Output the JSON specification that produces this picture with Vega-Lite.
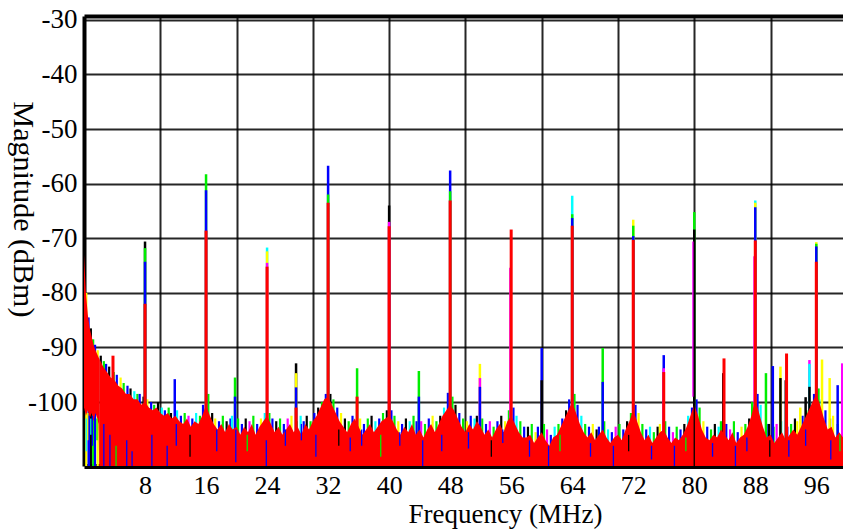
{
"$schema":"https://vega.github.io/schema/vega-lite/v6.json",
"width":759,"height":450,
"autosize":{"type":"none"},
"padding":{"left":84,"top":16,"right":0,"bottom":63},
"background":"#ffffff",
"config":{"view":{"stroke":null},"font":"Liberation Serif","axis":{"labelFont":"Liberation Serif","titleFont":"Liberation Serif","labelColor":"#000","titleColor":"#000","titleFontWeight":"normal","ticks":false,"gridColor":"#000","gridOpacity":0.85,"gridWidth":2,"domainColor":"#000","zindex":1,"labelFontSize":27}},
"datasets":{
"spk":[
{"f":8,"m":-70.6,"c":"k"},{"f":8,"m":-71.8,"c":"g"},{"f":8,"m":-74.3,"c":"b"},{"f":8,"m":-82,"c":"r"},
{"f":16,"m":-58.3,"c":"g"},{"f":16,"m":-61.2,"c":"b"},{"f":16,"m":-68.6,"c":"r"},
{"f":24,"m":-71.7,"c":"c"},{"f":24,"m":-72.4,"c":"y"},{"f":24,"m":-74.5,"c":"m"},{"f":24,"m":-75.2,"c":"r"},
{"f":32,"m":-56.7,"c":"b"},{"f":32,"m":-62,"c":"g"},{"f":32,"m":-63.5,"c":"r"},
{"f":40,"m":-64,"c":"k"},{"f":40,"m":-67,"c":"m"},{"f":40,"m":-67.8,"c":"r"},
{"f":48,"m":-57.6,"c":"b"},{"f":48,"m":-61.4,"c":"g"},{"f":48,"m":-63.1,"c":"r"},
{"f":55.9,"m":-75.4,"c":"m"},{"f":56,"m":-68.4,"c":"r"},
{"f":64,"m":-62.2,"c":"c"},{"f":64,"m":-65.6,"c":"g"},{"f":64,"m":-66.3,"c":"b"},{"f":64,"m":-67.7,"c":"r"},
{"f":72,"m":-66.6,"c":"y"},{"f":72,"m":-67.7,"c":"g"},{"f":72,"m":-69.6,"c":"b"},{"f":72,"m":-70.3,"c":"r"},
{"f":80,"m":-65.2,"c":"g"},{"f":80,"m":-68.4,"c":"k"},
{"f":88,"m":-63.1,"c":"c"},{"f":88,"m":-63.5,"c":"y"},{"f":88,"m":-64.3,"c":"b"},{"f":87.9,"m":-73.3,"c":"m"},{"f":88,"m":-70.4,"c":"r"},
{"f":96,"m":-70.7,"c":"y"},{"f":96,"m":-71,"c":"g"},{"f":96,"m":-71.5,"c":"b"},{"f":96,"m":-74.3,"c":"r"},
{"f":3.8,"m":-91.5,"c":"r"},
{"f":11.9,"m":-95.8,"c":"b"},
{"f":19.8,"m":-95.5,"c":"g"},{"f":19.8,"m":-99,"c":"b"},
{"f":27.8,"m":-92.9,"c":"k"},{"f":27.8,"m":-94.7,"c":"y"},{"f":27.8,"m":-97.3,"c":"b"},{"f":27.8,"m":-101,"c":"r"},
{"f":35.8,"m":-93.8,"c":"g"},{"f":35.8,"m":-99,"c":"r"},
{"f":43.9,"m":-94.3,"c":"g"},{"f":43.9,"m":-99,"c":"b"},
{"f":51.9,"m":-93,"c":"y"},{"f":51.9,"m":-95.6,"c":"m"},{"f":51.9,"m":-97.2,"c":"b"},
{"f":60,"m":-90.1,"c":"b"},{"f":60,"m":-96,"c":"k"},
{"f":68,"m":-90.1,"c":"g"},{"f":68,"m":-96.3,"c":"b"},
{"f":76,"m":-91.4,"c":"b"},{"f":76,"m":-93.8,"c":"m"},{"f":76,"m":-94.5,"c":"r"},
{"f":83.9,"m":-92,"c":"r"},{"f":83.8,"m":-94.7,"c":"k"},
{"f":87.6,"m":-100,"c":"g"},
{"f":89.4,"m":-94.7,"c":"g"},
{"f":90.3,"m":-93.4,"c":"b"},
{"f":91.3,"m":-93.5,"c":"y"},{"f":91.3,"m":-95.6,"c":"k"},
{"f":92.1,"m":-91.1,"c":"r"},{"f":92,"m":-96,"c":"k"},
{"f":93.9,"m":-101,"c":"y"},
{"f":94.6,"m":-99.1,"c":"k"},
{"f":95.1,"m":-92.3,"c":"m"},{"f":95.1,"m":-93,"c":"c"},{"f":95.1,"m":-97.2,"c":"k"},
{"f":96.75,"m":-92.2,"c":"y"},
{"f":97.75,"m":-95.6,"c":"y"},
{"f":98.8,"m":-96.9,"c":"b"},
{"f":99.4,"m":-92.9,"c":"m"}
],
"lft":[
{"f":0,"m":-73,"lo":-101},{"f":0.25,"m":-80,"lo":-102.5},{"f":0.5,"m":-84,"lo":-101.5},{"f":0.75,"m":-86.5,"lo":-103},{"f":1,"m":-88,"lo":-102},{"f":1.25,"m":-89.5,"lo":-103.5},{"f":1.5,"m":-90.5,"lo":-102},{"f":1.75,"m":-91.3,"lo":-103},{"f":1.9,"m":-91.8,"lo":-104},{"f":2,"m":-92,"lo":-111.7}
],
"flr":[
{"f":2,"m":-92},{"f":2.5,"m":-93.5},{"f":3,"m":-94.5},{"f":3.5,"m":-95.5},{"f":4,"m":-96},{"f":4.5,"m":-97},{"f":5,"m":-97.5},{"f":5.5,"m":-98.5},{"f":6,"m":-98.5},{"f":6.5,"m":-99.5},{"f":7,"m":-99.5},{"f":7.5,"m":-100.5},{"f":8,"m":-100},{"f":8.5,"m":-101},{"f":9,"m":-101.5},{"f":9.5,"m":-101},{"f":10,"m":-102},{"f":10.5,"m":-102.5},{"f":11,"m":-102},{"f":11.5,"m":-103},{"f":12,"m":-102.5},{"f":12.5,"m":-103.5},{"f":13,"m":-104},{"f":13.5,"m":-103},{"f":14,"m":-104.5},{"f":14.5,"m":-103.5},{"f":15,"m":-104},{"f":15.5,"m":-102.5},{"f":16,"m":-100.5},{"f":16.5,"m":-102.5},{"f":17,"m":-104},{"f":17.5,"m":-105},{"f":18,"m":-104},{"f":18.5,"m":-105.5},{"f":19,"m":-104},{"f":19.5,"m":-105},
{"f":20,"m":-104.5},{"f":20.5,"m":-106},{"f":21,"m":-104.5},{"f":21.5,"m":-105.5},{"f":22,"m":-104},{"f":22.5,"m":-106},{"f":23,"m":-104.5},{"f":23.5,"m":-103.5},{"f":24,"m":-102.5},{"f":24.5,"m":-104},{"f":25,"m":-105.5},{"f":25.5,"m":-104.5},{"f":26,"m":-106},{"f":26.5,"m":-105},{"f":27,"m":-104},{"f":27.5,"m":-105.5},{"f":28,"m":-104.5},{"f":28.5,"m":-106},{"f":29,"m":-104},{"f":29.5,"m":-105},
{"f":30,"m":-103.5},{"f":30.5,"m":-102.5},{"f":31,"m":-101},{"f":31.5,"m":-99.5},{"f":32,"m":-99},{"f":32.5,"m":-100.5},{"f":33,"m":-102},{"f":33.5,"m":-103.5},{"f":34,"m":-104.5},{"f":34.5,"m":-105.5},{"f":35,"m":-104},{"f":35.5,"m":-103},{"f":36,"m":-104.5},{"f":36.5,"m":-106},{"f":37,"m":-105},{"f":37.5,"m":-104},{"f":38,"m":-105.5},{"f":38.5,"m":-104.5},{"f":39,"m":-103.5},{"f":39.5,"m":-103},
{"f":40,"m":-102.5},{"f":40.5,"m":-103.5},{"f":41,"m":-105},{"f":41.5,"m":-106},{"f":42,"m":-104.5},{"f":42.5,"m":-105.5},{"f":43,"m":-104},{"f":43.5,"m":-106},{"f":44,"m":-105},{"f":44.5,"m":-106.5},{"f":45,"m":-105},{"f":45.5,"m":-104},{"f":46,"m":-105.5},{"f":46.5,"m":-104},{"f":47,"m":-102.5},{"f":47.5,"m":-101.5},{"f":48,"m":-100.5},{"f":48.5,"m":-101.5},{"f":49,"m":-103},{"f":49.5,"m":-104.5},
{"f":50,"m":-105.5},{"f":50.5,"m":-104},{"f":51,"m":-105},{"f":51.5,"m":-103.5},{"f":52,"m":-104.5},{"f":52.5,"m":-106},{"f":53,"m":-105},{"f":53.5,"m":-106.5},{"f":54,"m":-105},{"f":54.5,"m":-104},{"f":55,"m":-105.5},{"f":55.5,"m":-103.5},{"f":56,"m":-102.5},{"f":56.5,"m":-104},{"f":57,"m":-105.5},{"f":57.5,"m":-106.5},
{"f":58,"m":-106.5},{"f":58.5,"m":-106},{"f":59,"m":-107.5},{"f":59.5,"m":-106.5},{"f":60,"m":-105.5},{"f":60.5,"m":-107},{"f":61,"m":-108},{"f":61.5,"m":-106.5},{"f":62,"m":-106},{"f":62.5,"m":-104.5},{"f":63,"m":-103},{"f":63.5,"m":-101.5},{"f":64,"m":-100},{"f":64.5,"m":-102},{"f":65,"m":-104},{"f":65.5,"m":-105.5},{"f":66,"m":-106.5},{"f":66.5,"m":-105.5},{"f":67,"m":-107},{"f":67.5,"m":-106},{"f":68,"m":-105},{"f":68.5,"m":-106.5},{"f":69,"m":-107.5},{"f":69.5,"m":-106.5},
{"f":70,"m":-106},{"f":70.5,"m":-107},{"f":71,"m":-105},{"f":71.5,"m":-103.5},{"f":72,"m":-101.5},{"f":72.5,"m":-103.5},{"f":73,"m":-105.5},{"f":73.5,"m":-107},{"f":74,"m":-106},{"f":74.5,"m":-107.5},{"f":75,"m":-106.5},{"f":75.5,"m":-105.5},{"f":76,"m":-105},{"f":76.5,"m":-106.5},{"f":77,"m":-107.5},{"f":77.5,"m":-106.5},{"f":78,"m":-107},{"f":78.5,"m":-106},{"f":79,"m":-104.5},{"f":79.5,"m":-102.5},
{"f":80,"m":-100.5},{"f":80.5,"m":-102.5},{"f":81,"m":-105},{"f":81.5,"m":-106.5},{"f":82,"m":-107},{"f":82.5,"m":-106},{"f":83,"m":-106.5},{"f":83.5,"m":-105},{"f":84,"m":-106},{"f":84.5,"m":-107},{"f":85,"m":-105.5},{"f":85.5,"m":-107.5},{"f":86,"m":-106.5},{"f":86.5,"m":-106},{"f":87,"m":-104.5},{"f":87.5,"m":-102.5},{"f":88,"m":-99.5},{"f":88.5,"m":-102},{"f":89,"m":-104.5},{"f":89.5,"m":-106.5},
{"f":90,"m":-106},{"f":90.5,"m":-107.5},{"f":91,"m":-106.5},{"f":91.5,"m":-105.5},{"f":92,"m":-107},{"f":92.5,"m":-106},{"f":93,"m":-105},{"f":93.5,"m":-106},{"f":94,"m":-104.5},{"f":94.5,"m":-103},{"f":95,"m":-101.5},{"f":95.5,"m":-100},{"f":96,"m":-98.5},{"f":96.5,"m":-100.5},{"f":97,"m":-103},{"f":97.5,"m":-105},{"f":98,"m":-104.5},{"f":98.5,"m":-106.5},{"f":99,"m":-105.5},{"f":99.5,"m":-106.5}
],
"frg":[
{"f":0.3,"m":-80,"c":"y"},{"f":0.6,"m":-84.5,"c":"b"},{"f":0.9,"m":-86.5,"c":"k"},{"f":1.2,"m":-88.5,"c":"g"},{"f":1.45,"m":-89.5,"c":"b"},{"f":1.8,"m":-90.5,"c":"y"},{"f":2.2,"m":-91.5,"c":"k"},{"f":2.6,"m":-92.5,"c":"g"},{"f":2.9,"m":-93,"c":"b"},{"f":3.3,"m":-93.5,"c":"k"},{"f":3.9,"m":-94.5,"c":"g"},{"f":4.3,"m":-95,"c":"b"},{"f":4.8,"m":-95.5,"c":"y"},{"f":5.2,"m":-96.5,"c":"g"},{"f":5.7,"m":-97,"c":"b"},{"f":6.1,"m":-97.5,"c":"k"},{"f":6.6,"m":-98,"c":"c"},{"f":7,"m":-98.5,"c":"g"},{"f":7.3,"m":-98.5,"c":"b"},{"f":7.8,"m":-99,"c":"k"},{"f":8.3,"m":-99.5,"c":"y"},{"f":8.8,"m":-100,"c":"b"},{"f":9.2,"m":-100.5,"c":"g"},{"f":9.7,"m":-100,"c":"k"},
{"f":10.2,"m":-101,"c":"c"},{"f":10.6,"m":-101.5,"c":"b"},{"f":11.1,"m":-101,"c":"g"},{"f":11.4,"m":-102,"c":"k"},{"f":12.2,"m":-101.5,"c":"c"},{"f":12.7,"m":-102.5,"c":"b"},{"f":13.2,"m":-102,"c":"g"},{"f":13.7,"m":-102.5,"c":"m"},{"f":14.2,"m":-103,"c":"b"},{"f":14.7,"m":-102,"c":"c"},{"f":15.2,"m":-102.5,"c":"g"},{"f":15.6,"m":-100.5,"c":"b"},{"f":16.3,"m":-98.5,"c":"g"},{"f":16.8,"m":-102,"c":"k"},{"f":17.2,"m":-103,"c":"y"},{"f":17.7,"m":-103.5,"c":"b"},{"f":18.2,"m":-102.5,"c":"g"},{"f":18.7,"m":-103.5,"c":"k"},{"f":19.2,"m":-103,"c":"b"},{"f":19.4,"m":-102.5,"c":"c"},
{"f":20.2,"m":-103,"c":"g"},{"f":20.7,"m":-104,"c":"b"},{"f":21.2,"m":-103,"c":"k"},{"f":21.7,"m":-103.5,"c":"m"},{"f":22.2,"m":-102.5,"c":"g"},{"f":22.7,"m":-104,"c":"b"},{"f":23.2,"m":-103,"c":"y"},{"f":23.7,"m":-102,"c":"c"},{"f":24.3,"m":-102,"c":"g"},{"f":24.7,"m":-103,"c":"b"},{"f":25.2,"m":-103.5,"c":"k"},{"f":25.7,"m":-103,"c":"g"},{"f":26.2,"m":-104,"c":"b"},{"f":26.7,"m":-103,"c":"m"},{"f":27.2,"m":-102.5,"c":"y"},{"f":27.9,"m":-103.5,"c":"g"},{"f":28.4,"m":-102.5,"c":"c"},{"f":28.8,"m":-103.5,"c":"b"},{"f":29.2,"m":-102.5,"c":"k"},{"f":29.7,"m":-103.5,"c":"g"},
{"f":30.2,"m":-102,"c":"b"},{"f":30.7,"m":-101,"c":"k"},{"f":31.2,"m":-100,"c":"g"},{"f":31.7,"m":-98.5,"c":"b"},{"f":32.3,"m":-98.5,"c":"k"},{"f":32.7,"m":-99.5,"c":"g"},{"f":33.2,"m":-101,"c":"b"},{"f":33.7,"m":-102,"c":"y"},{"f":34.2,"m":-103,"c":"k"},{"f":34.7,"m":-103.5,"c":"g"},{"f":35.2,"m":-102.5,"c":"b"},{"f":36.2,"m":-103,"c":"y"},{"f":36.7,"m":-104,"c":"b"},{"f":37.2,"m":-103,"c":"g"},{"f":37.7,"m":-102.5,"c":"k"},{"f":38.2,"m":-103.5,"c":"c"},{"f":38.7,"m":-103,"c":"b"},{"f":39.2,"m":-102,"c":"g"},{"f":39.7,"m":-101.5,"c":"k"},
{"f":40.3,"m":-101.5,"c":"b"},{"f":40.7,"m":-102.5,"c":"g"},{"f":41.2,"m":-103.5,"c":"y"},{"f":41.7,"m":-104,"c":"b"},{"f":42.2,"m":-103,"c":"k"},{"f":42.7,"m":-103.5,"c":"c"},{"f":43.2,"m":-102.5,"c":"g"},{"f":43.6,"m":-103.5,"c":"b"},{"f":44.2,"m":-103.5,"c":"m"},{"f":44.7,"m":-104,"c":"g"},{"f":45.2,"m":-103,"c":"b"},{"f":45.7,"m":-102.5,"c":"y"},{"f":46.2,"m":-103.5,"c":"g"},{"f":46.7,"m":-102.5,"c":"k"},{"f":47.2,"m":-101,"c":"c"},{"f":47.7,"m":-98.3,"c":"b"},{"f":48.3,"m":-99,"c":"g"},{"f":48.7,"m":-100.5,"c":"k"},{"f":49.2,"m":-102,"c":"b"},{"f":49.7,"m":-103,"c":"g"},
{"f":50.2,"m":-103.5,"c":"y"},{"f":50.7,"m":-102.5,"c":"b"},{"f":51.2,"m":-103,"c":"c"},{"f":51.5,"m":-102.5,"c":"k"},{"f":52.2,"m":-103,"c":"g"},{"f":52.7,"m":-104,"c":"b"},{"f":53.2,"m":-103.5,"c":"m"},{"f":53.7,"m":-104.5,"c":"g"},{"f":54.2,"m":-103.5,"c":"b"},{"f":54.7,"m":-102.5,"c":"k"},{"f":55.2,"m":-103.5,"c":"y"},{"f":55.7,"m":-101.5,"c":"g"},{"f":56.3,"m":-101,"c":"b"},{"f":56.7,"m":-102.5,"c":"c"},{"f":57.2,"m":-103.5,"c":"g"},{"f":57.7,"m":-104.5,"c":"b"},
{"f":58.2,"m":-104.5,"c":"k"},{"f":58.7,"m":-104,"c":"g"},{"f":59.2,"m":-105.5,"c":"y"},{"f":59.5,"m":-104.5,"c":"b"},{"f":60.3,"m":-104,"c":"g"},{"f":60.7,"m":-105,"c":"m"},{"f":61.2,"m":-106,"c":"b"},{"f":61.7,"m":-104.5,"c":"c"},{"f":62.2,"m":-104,"c":"g"},{"f":62.7,"m":-103,"c":"b"},{"f":63.2,"m":-101.5,"c":"k"},{"f":63.6,"m":-99.5,"c":"b"},{"f":64.3,"m":-98.5,"c":"g"},{"f":64.7,"m":-100.5,"c":"b"},{"f":65.2,"m":-102.5,"c":"c"},{"f":65.7,"m":-104,"c":"g"},{"f":66.2,"m":-104.5,"c":"b"},{"f":66.7,"m":-104,"c":"y"},{"f":67.2,"m":-105,"c":"k"},{"f":67.5,"m":-104.5,"c":"b"},{"f":68.2,"m":-103.5,"c":"g"},{"f":68.7,"m":-105,"c":"c"},{"f":69.2,"m":-105.5,"c":"b"},{"f":69.7,"m":-104.5,"c":"m"},
{"f":70.2,"m":-104,"c":"g"},{"f":70.7,"m":-105,"c":"b"},{"f":71.2,"m":-103.5,"c":"k"},{"f":71.7,"m":-102,"c":"g"},{"f":72.3,"m":-100.5,"c":"b"},{"f":72.7,"m":-102,"c":"y"},{"f":73.2,"m":-104,"c":"g"},{"f":73.7,"m":-105,"c":"b"},{"f":74.2,"m":-104.5,"c":"c"},{"f":74.7,"m":-105.5,"c":"g"},{"f":75.2,"m":-104.5,"c":"k"},{"f":75.5,"m":-104,"c":"y"},{"f":76.2,"m":-103.5,"c":"g"},{"f":76.7,"m":-104.5,"c":"b"},{"f":77.2,"m":-105.5,"c":"m"},{"f":77.7,"m":-104.5,"c":"g"},{"f":78.2,"m":-105,"c":"b"},{"f":78.7,"m":-104,"c":"k"},{"f":79.2,"m":-102.5,"c":"c"},{"f":79.7,"m":-101,"c":"b"},
{"f":80.3,"m":-99.5,"c":"b"},{"f":80.7,"m":-101,"c":"g"},{"f":81.2,"m":-103.5,"c":"y"},{"f":81.7,"m":-104.5,"c":"b"},{"f":82.2,"m":-105,"c":"g"},{"f":82.7,"m":-104,"c":"k"},{"f":83.2,"m":-104.5,"c":"c"},{"f":83.5,"m":-103.5,"c":"g"},{"f":84.2,"m":-104,"c":"b"},{"f":84.7,"m":-105,"c":"m"},{"f":85.2,"m":-103.5,"c":"g"},{"f":85.7,"m":-105.5,"c":"b"},{"f":86.2,"m":-104.5,"c":"y"},{"f":86.7,"m":-104,"c":"g"},{"f":87.2,"m":-103,"c":"k"},{"f":87.7,"m":-101,"c":"g"},{"f":88.3,"m":-98.5,"c":"b"},{"f":88.7,"m":-100.5,"c":"c"},{"f":89.5,"m":-104,"c":"b"},{"f":89.8,"m":-104,"c":"k"},
{"f":90.4,"m":-104.5,"c":"g"},{"f":90.8,"m":-104,"c":"m"},{"f":91.4,"m":-103.5,"c":"c"},{"f":92.2,"m":-104.5,"c":"b"},{"f":92.7,"m":-104,"c":"g"},{"f":93.2,"m":-103,"c":"k"},{"f":93.5,"m":-103.5,"c":"y"},{"f":94.2,"m":-102.5,"c":"b"},{"f":94.7,"m":-101.5,"c":"g"},{"f":95.2,"m":-100.5,"c":"k"},{"f":95.7,"m":-98.5,"c":"b"},{"f":96.3,"m":-97.5,"c":"g"},{"f":96.7,"m":-99.5,"c":"c"},{"f":97.2,"m":-101.5,"c":"b"},{"f":97.8,"m":-103,"c":"k"},{"f":98.2,"m":-102.5,"c":"y"},{"f":98.8,"m":-104,"c":"g"},{"f":99.4,"m":-103.5,"c":"b"}
],
"ovr":[
{"f":0.3,"m":-103,"lo":-109,"c":"c"},{"f":0.5,"m":-102,"lo":-107,"c":"y"},{"f":0.7,"m":-102.5,"lo":-111.7,"c":"b"},{"f":0.9,"m":-103,"lo":-106,"c":"c"},{"f":1.1,"m":-102.5,"lo":-108,"c":"b"},{"f":1.4,"m":-103.5,"lo":-111.7,"c":"b"},{"f":1.7,"m":-103,"lo":-107,"c":"g"},
{"f":2.6,"m":-104,"lo":-111.7,"c":"b"},{"f":3.4,"m":-106,"lo":-111.7,"c":"b"},{"f":4.2,"m":-108,"lo":-111.7,"c":"g"},{"f":5.6,"m":-107,"lo":-111.7,"c":"b"},{"f":6.3,"m":-109,"lo":-111.7,"c":"b"},{"f":8.9,"m":-106,"lo":-111.7,"c":"b"},{"f":10.9,"m":-108,"lo":-111.7,"c":"b"},{"f":12.1,"m":-104,"lo":-108,"c":"b"},{"f":13.9,"m":-106,"lo":-110,"c":"k"},{"f":17.4,"m":-105,"lo":-109,"c":"b"},{"f":19.9,"m":-105,"lo":-111,"c":"b"},{"f":21.4,"m":-106,"lo":-109,"c":"g"},{"f":23.9,"m":-107,"lo":-111.7,"c":"b"},{"f":26.4,"m":-105,"lo":-108,"c":"b"},{"f":28.5,"m":-104,"lo":-107,"c":"b"},{"f":30.4,"m":-106,"lo":-110,"c":"b"},{"f":33.4,"m":-105,"lo":-108,"c":"k"},{"f":34.9,"m":-106.5,"lo":-109,"c":"b"},{"f":36.4,"m":-105,"lo":-108,"c":"b"},{"f":38.9,"m":-106,"lo":-110,"c":"g"},{"f":41.4,"m":-105.5,"lo":-108,"c":"b"},{"f":44.4,"m":-107,"lo":-111.7,"c":"b"},{"f":46.9,"m":-106,"lo":-109,"c":"b"},{"f":50.4,"m":-105.5,"lo":-108.5,"c":"b"},{"f":53.4,"m":-107,"lo":-110,"c":"k"},{"f":54.9,"m":-105,"lo":-107.5,"c":"b"},{"f":58.4,"m":-107,"lo":-110,"c":"b"},{"f":60.9,"m":-108,"lo":-111.7,"c":"b"},{"f":62.4,"m":-106,"lo":-109,"c":"g"},{"f":66.4,"m":-107.5,"lo":-110,"c":"b"},{"f":69.4,"m":-108,"lo":-111.7,"c":"b"},{"f":71.4,"m":-106,"lo":-109,"c":"k"},{"f":74.4,"m":-108,"lo":-110.5,"c":"b"},{"f":77.4,"m":-108,"lo":-111.7,"c":"b"},{"f":78.9,"m":-106.5,"lo":-109,"c":"g"},{"f":79.82,"m":-70.6,"lo":-99,"c":"m"},{"f":80,"m":-99,"lo":-111.7,"c":"k"},{"f":82.4,"m":-107.5,"lo":-110,"c":"b"},{"f":85.4,"m":-108,"lo":-111.7,"c":"b"},{"f":86.9,"m":-106.5,"lo":-109,"c":"b"},{"f":89.9,"m":-107,"lo":-110,"c":"k"},{"f":92.4,"m":-107,"lo":-110,"c":"b"},{"f":94.6,"m":-105,"lo":-108,"c":"b"},{"f":97.9,"m":-107,"lo":-110.5,"c":"b"},{"f":99.1,"m":-106,"lo":-109,"c":"g"}
]
},
"resolve":{"scale":{"x":"shared","y":"shared","color":"shared"},"axis":{"x":"independent"}},
"layer":[
{"data":{"name":"frg"},"mark":{"type":"rule","strokeWidth":2.2},
 "encoding":{
  "x":{"field":"f","type":"quantitative","scale":{"domain":[0,99.5],"nice":false,"zero":false},
       "axis":{"orient":"top","values":[10,20,30,40,50,60,70,80,90],"labels":false,"ticks":false,"grid":true,"domainWidth":4,"title":null}},
  "y":{"field":"m","type":"quantitative","scale":{"domain":[-111.7,-29.3],"nice":false,"zero":false},
       "axis":{"values":[-100,-90,-80,-70,-60,-50,-40,-30],"grid":true,"domainWidth":4,"labelPadding":7,"labelFontSize":27,"labelExpr":"datum.value + ''","title":"Magnitude (dBm)","titleFontSize":30,"titleAngle":90,"titleX":-62,"titleY":193,"titleAlign":"center","titleBaseline":"middle"}},
  "y2":{"datum":-111.7},
  "color":{"field":"c","type":"nominal","scale":{"domain":["r","b","g","k","y","c","m"],"range":["#ff0000","#0000ff","#00ee00","#000000","#ffff00","#00ffff","#ff00ff"]},"legend":null}
 }},
{"data":{"name":"spk"},"transform":[{"filter":"datum.c != 'r'"}],"mark":{"type":"rule","strokeWidth":2.5},
 "encoding":{
  "x":{"field":"f","type":"quantitative","axis":{"orient":"bottom","values":[8,16,24,32,40,48,56,64,72,80,88,96],"grid":false,"ticks":false,"domainWidth":5,"labelPadding":6,"labelFontSize":26,"title":"Frequency (MHz)","titleFontSize":27,"titleX":421,"titleY":56,"titleAlign":"center","titleBaseline":"alphabetic"}},
  "y":{"field":"m","type":"quantitative"},
  "y2":{"datum":-111.7},
  "color":{"field":"c","type":"nominal","scale":{"domain":["r","b","g","k","y","c","m"],"range":["#ff0000","#0000ff","#00ee00","#000000","#ffff00","#00ffff","#ff00ff"]},"legend":null},
  "order":{"field":"m","sort":"descending"}
 }},
{"data":{"name":"lft"},"mark":{"type":"area","color":"#ff0000"},
 "encoding":{"x":{"field":"f","type":"quantitative","axis":null},"y":{"field":"m","type":"quantitative"},"y2":{"field":"lo"}}},
{"data":{"name":"flr"},"mark":{"type":"area","color":"#ff0000"},
 "encoding":{"x":{"field":"f","type":"quantitative","axis":null},"y":{"field":"m","type":"quantitative"},"y2":{"datum":-111.7}}},
{"data":{"name":"spk"},"transform":[{"filter":"datum.c == 'r'"}],"mark":{"type":"rule","strokeWidth":3,"color":"#ff0000"},
 "encoding":{"x":{"field":"f","type":"quantitative","axis":null},"y":{"field":"m","type":"quantitative"},"y2":{"datum":-111.7}}},
{"data":{"name":"ovr"},"mark":{"type":"rule","strokeWidth":1.3},
 "encoding":{"x":{"field":"f","type":"quantitative","axis":null},"y":{"field":"m","type":"quantitative"},"y2":{"field":"lo"},
  "color":{"field":"c","type":"nominal","scale":{"domain":["r","b","g","k","y","c","m"],"range":["#ff0000","#0000ff","#00ee00","#000000","#ffff00","#00ffff","#ff00ff"]},"legend":null}}}
]
}
